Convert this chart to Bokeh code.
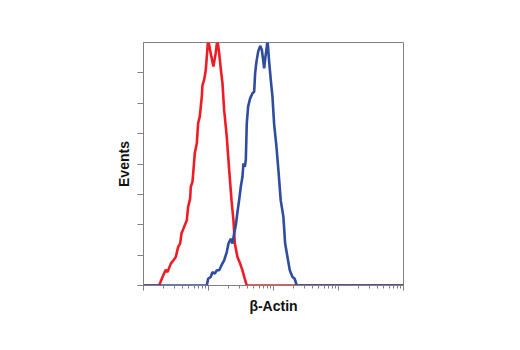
from bokeh.plotting import figure
from bokeh.embed import file_html
from bokeh.resources import INLINE
from bokeh.models import FixedTicker, LogTicker, Range1d

# Red histogram (control)
red_x = [1, 1.74, 1.96, 2.20, 2.34, 2.63, 2.89, 3.14, 3.41, 3.66, 3.84, 4.22, 4.64, 4.86,
         5.22, 5.34, 5.67, 5.87, 6.15, 6.61, 6.92, 7.34, 7.61, 7.89, 8.08, 8.57, 9.09,
         9.42, 9.87, 10.8, 11.9, 12.9, 13.7, 14.6, 15.5, 16.4, 17.4, 19.1, 20.8, 22.6,
         24.2, 25.4, 27.9, 30.7, 33.3, 36.2, 38.8, 10000]
red_y = [0, 0, 0.28, 0.52, 0.44, 0.72, 0.83, 0.94, 1.27, 1.38, 1.71, 1.93, 2.15, 2.59,
         2.86, 3.25, 3.41, 3.80, 4.35, 4.68, 5.34, 5.56, 5.89, 6.22, 6.60, 6.77, 7.10,
         7.54, 8.10, 7.65, 7.21, 7.65, 8.10, 7.65, 7.10, 6.66, 5.78, 4.90, 3.80, 2.81,
         2.15, 1.38, 0.94, 0.72, 0.50, 0.22, 0, 0]

# Blue histogram (beta-Actin)
blue_x = [1, 9.42, 9.87, 10.8, 11.5, 12.5, 13.4, 14.6, 15.8, 17.4, 19.1, 20.3, 22.0, 23.4,
          24.8, 26.3, 27.9, 29.6, 31.4, 33.3, 34.5, 36.2, 37.5, 38.8, 40.7, 43.7, 47.5,
          50.4, 52.2, 54.7, 58.1, 62.4, 66.1, 69.3, 71.8, 75.3, 78.0, 80.8, 85.7, 90.8,
          96.4, 102, 111, 119, 129, 142, 151, 164, 178, 196, 212, 228, 10000]
blue_y = [0, 0, 0.22, 0.28, 0.44, 0.39, 0.50, 0.50, 0.66, 0.83, 1.10, 1.38, 1.54, 1.38,
          1.71, 1.98, 2.42, 2.81, 3.25, 3.58, 4.02, 3.91, 4.13, 5.34, 5.89, 6.16, 6.33,
          6.38, 6.99, 7.37, 7.70, 7.89, 7.76, 7.43, 7.15, 7.54, 7.76, 8.10, 7.37, 6.77,
          6.22, 5.34, 4.57, 3.80, 2.81, 2.26, 1.38, 0.94, 0.50, 0.28, 0.22, 0, 0]

y_ticks = [0, 1, 2, 3, 4, 5, 6, 7]
x_label = "β-Actin"
y_label = "Events"

W, H = 500, 330
p = figure(width=W, height=H, x_axis_type="log", output_backend="svg",
           toolbar_location=None, x_range=Range1d(1, 10000), y_range=Range1d(0, 8),
           min_border_left=143, min_border_right=W - 403, min_border_top=42,
           min_border_bottom=H - 285)

p.line(red_x, red_y, line_color="#ee1d25", line_width=2.6)
p.line(blue_x, blue_y, line_color="#2f4c9f", line_width=2.6)

p.xgrid.visible = False
p.ygrid.visible = False
p.outline_line_color = "#808080"
p.outline_line_width = 1
p.background_fill_color = "white"
p.border_fill_color = "white"

font = "Liberation Sans"

p.xaxis.ticker = LogTicker(num_minor_ticks=10)
p.xaxis.major_label_text_font_size = "1px"
p.xaxis.major_label_text_color = None
p.xaxis.major_label_standoff = 0
p.xaxis.major_tick_out = 5
p.xaxis.major_tick_in = 0
p.xaxis.minor_tick_out = 3
p.xaxis.minor_tick_in = 0
p.xaxis.axis_line_color = "#808080"
p.xaxis.major_tick_line_color = "#808080"
p.xaxis.minor_tick_line_color = "#808080"
p.xaxis.axis_label = x_label
p.xaxis.axis_label_text_font = font
p.xaxis.axis_label_text_font_style = "bold"
p.xaxis.axis_label_text_font_size = "14px"
p.xaxis.axis_label_text_color = "#111111"
p.xaxis.axis_label_standoff = 7

p.yaxis.ticker = FixedTicker(ticks=y_ticks)
p.yaxis.major_label_text_font_size = "1px"
p.yaxis.major_label_text_color = None
p.yaxis.major_label_standoff = 0
p.yaxis.major_tick_out = 6
p.yaxis.major_tick_in = 0
p.yaxis.minor_tick_line_color = None
p.yaxis.axis_line_color = "#808080"
p.yaxis.major_tick_line_color = "#808080"
p.yaxis.axis_label = y_label
p.yaxis.axis_label_text_font = font
p.yaxis.axis_label_text_font_style = "bold"
p.yaxis.axis_label_text_font_size = "14px"
p.yaxis.axis_label_text_color = "#111111"
p.yaxis.axis_label_standoff = 6

open("out.html", "w").write(file_html(p, INLINE))
